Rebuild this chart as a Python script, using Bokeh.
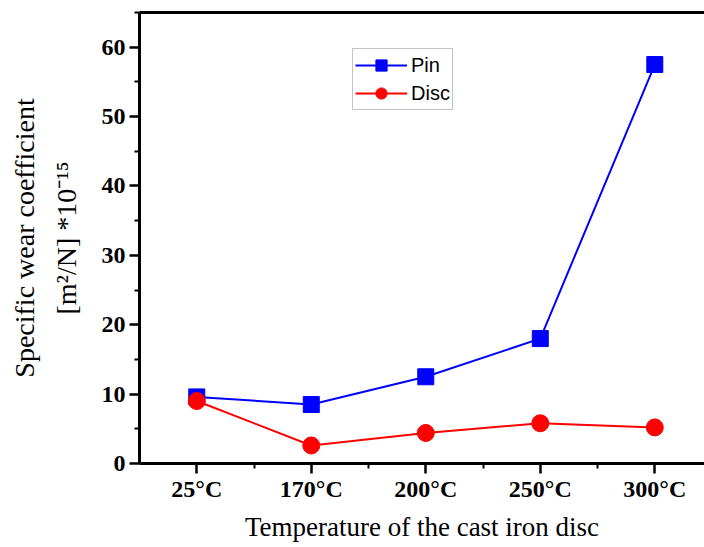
from bokeh.plotting import figure
from bokeh.models import FixedTicker, LinearAxis, Range1d, Legend, LegendItem, ColumnDataSource
from bokeh.embed import file_html
from bokeh.resources import INLINE

categories = ["25°C", "170°C", "200°C", "250°C", "300°C"]
positions = [1, 2, 3, 4, 5]
pin = [9.6, 8.5, 12.5, 18.0, 57.5]
disc = [9.0, 2.6, 4.4, 5.8, 5.2]

src = ColumnDataSource(dict(x=positions, pin=pin, disc=disc))

p = figure(width=704, height=547, output_backend="svg", toolbar_location=None,
           x_range=Range1d(0.5, 5.434), y_range=Range1d(0, 65),
           min_border_left=139, min_border_right=0, min_border_top=12, min_border_bottom=84)
p.background_fill_color = "white"
p.border_fill_color = "white"
p.outline_line_color = None
p.xgrid.visible = False
p.ygrid.visible = False

serif = "Liberation Serif"

# x axis
xa = p.xaxis[0]
xa.ticker = FixedTicker(ticks=positions, minor_ticks=[1.5, 2.5, 3.5, 4.5])
xa.major_label_overrides = {pos: lab for pos, lab in zip(positions, categories)}
xa.axis_label = "Temperature of the cast iron disc"

# y axis
ya = p.yaxis[0]
ya.ticker = FixedTicker(ticks=[0, 10, 20, 30, 40, 50, 60],
                        minor_ticks=[5, 15, 25, 35, 45, 55, 65])
ya.axis_label = "Specific wear coefficient\n[m²/N] *10⁻¹⁵"

for ax in (xa, ya):
    ax.axis_line_width = 3
    ax.axis_line_color = "black"
    ax.major_tick_line_width = 2.5
    ax.minor_tick_line_width = 2
    ax.major_tick_in = 0
    ax.major_tick_out = 10
    ax.minor_tick_in = 0
    ax.minor_tick_out = 5
    ax.major_label_text_font = serif
    ax.major_label_text_font_style = "bold"
    ax.major_label_text_font_size = "24px"
    ax.major_label_text_color = "black"
    ax.axis_label_text_font = serif
    ax.axis_label_text_font_style = "normal"
    ax.axis_label_text_font_size = "27px"
    ax.axis_label_text_color = "black"

ya.axis_label_text_font_size = "28px"
ya.axis_label_text_line_height = 1.35

xa.major_label_standoff = 2
xa.axis_label_standoff = 7
ya.major_label_standoff = 4
ya.axis_label_standoff = 17

top = LinearAxis(ticker=FixedTicker(ticks=[]), axis_line_width=3, axis_line_color="black",
                 major_tick_line_color=None, minor_tick_line_color=None,
                 major_label_text_font_size="0px")
p.add_layout(top, "above")

blue = "#0000FF"
red = "#FF0000"
l1 = p.line("x", "pin", source=src, color=blue, line_width=2)
s1 = p.scatter("x", "pin", source=src, marker="square", size=16, color=blue)
l2 = p.line("x", "disc", source=src, color=red, line_width=2)
s2 = p.scatter("x", "disc", source=src, marker="circle", size=17, color=red)

legend = Legend(items=[LegendItem(label="Pin", renderers=[l1, s1]),
                       LegendItem(label="Disc", renderers=[l2, s2])],
                location=(213, 353))
legend.label_text_font = "Liberation Sans"
legend.label_text_font_size = "20px"
legend.label_text_color = "black"
legend.glyph_width = 52
legend.glyph_height = 28
legend.label_height = 20
legend.label_standoff = 4
legend.spacing = -4
legend.padding = 2
legend.margin = 0
legend.border_line_color = "#888888"
legend.border_line_width = 1.5
legend.background_fill_alpha = 1.0
p.add_layout(legend, "center")

open("out.html", "w").write(file_html(p, INLINE))
